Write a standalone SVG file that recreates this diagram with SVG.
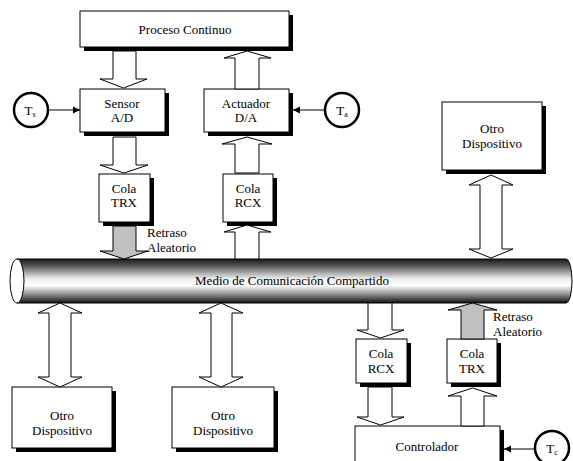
<svg xmlns="http://www.w3.org/2000/svg" width="573" height="461" viewBox="0 0 573 461">
<defs>
<style>
text{font-family:"Liberation Serif","Times New Roman",serif;font-size:13px;fill:#000;text-anchor:middle}
.box{fill:#fff;stroke:#000;stroke-width:1}
.sh{fill:#000}
.arr{fill:#fff;stroke:#000;stroke-width:1;stroke-linejoin:miter}
.garr{fill:#c0c0c0;stroke:#000;stroke-width:1}
.clk{fill:#fff;stroke:#000;stroke-width:2.5}
.ln{stroke:#000;stroke-width:1;fill:none}
.lt{text-anchor:start}
</style>
<linearGradient id="pipeG" x1="0" y1="0" x2="0" y2="1">
<stop offset="0" stop-color="#1a1a1a"/>
<stop offset="0.15" stop-color="#555555"/>
<stop offset="0.45" stop-color="#eeeeee"/>
<stop offset="0.6" stop-color="#ffffff"/>
<stop offset="0.8" stop-color="#909090"/>
<stop offset="1" stop-color="#101010"/>
</linearGradient>
<marker id="ah" markerWidth="8" markerHeight="8" refX="7" refY="4" orient="auto" markerUnits="userSpaceOnUse">
<path d="M0,0.5 L7,4 L0,7.5 Z" fill="#000"/>
</marker>
</defs>

<g id="medio">
<path d="M17,259 L566,259 A6,22 0 0 1 566,303 L17,303 Z" fill="url(#pipeG)" stroke="#000" stroke-width="1"/>
<ellipse cx="17" cy="281" rx="7" ry="22" fill="#fff" stroke="#000" stroke-width="1"/>
<text x="292" y="285">Medio de Comunicación Compartido</text>
</g>

<g id="proceso">
<rect class="sh" x="84" y="15" width="209" height="36"/>
<rect class="box" x="80" y="11" width="209" height="36"/>
<text x="185" y="34">Proceso Continuo</text>
</g>

<g id="sensor">
<rect class="sh" x="84" y="93" width="85" height="43"/>
<rect class="box" x="80" y="89" width="85" height="43"/>
<text x="122" y="108">Sensor</text>
<text x="122" y="122">A/D</text>
</g>

<g id="actuador">
<rect class="sh" x="208" y="93" width="85" height="43"/>
<rect class="box" x="204" y="89" width="85" height="43"/>
<text x="246" y="108">Actuador</text>
<text x="246" y="122">D/A</text>
</g>

<g id="colaTRX1">
<rect class="sh" x="103" y="178" width="51" height="48"/>
<rect class="box" x="99" y="174" width="51" height="48"/>
<text x="124" y="193">Cola</text>
<text x="124" y="207">TRX</text>
</g>

<g id="colaRCX1">
<rect class="sh" x="227" y="178" width="50" height="48"/>
<rect class="box" x="223" y="174" width="50" height="48"/>
<text x="248" y="193">Cola</text>
<text x="248" y="207">RCX</text>
</g>

<g id="otroTR">
<rect class="sh" x="446" y="106" width="100" height="68"/>
<rect class="box" x="442" y="102" width="100" height="68"/>
<text x="492" y="133">Otro</text>
<text x="492" y="148">Dispositivo</text>
</g>

<g id="otroBL">
<rect class="sh" x="16" y="391" width="100" height="61"/>
<rect class="box" x="12" y="387" width="100" height="61"/>
<text x="62" y="420">Otro</text>
<text x="62" y="435">Dispositivo</text>
</g>

<g id="otroBM">
<rect class="sh" x="176" y="391" width="102" height="61"/>
<rect class="box" x="172" y="387" width="102" height="61"/>
<text x="223" y="420">Otro</text>
<text x="223" y="435">Dispositivo</text>
</g>

<g id="colaRCX2">
<rect class="sh" x="360" y="343" width="51" height="44"/>
<rect class="box" x="356" y="339" width="51" height="44"/>
<text x="381" y="358">Cola</text>
<text x="381" y="373">RCX</text>
</g>

<g id="colaTRX2">
<rect class="sh" x="451" y="343" width="50" height="44"/>
<rect class="box" x="447" y="339" width="50" height="44"/>
<text x="472" y="358">Cola</text>
<text x="472" y="373">TRX</text>
</g>

<g id="controlador">
<rect class="sh" x="359" y="430" width="145" height="40"/>
<rect class="box" x="355" y="426" width="145" height="40"/>
<text x="427" y="451">Controlador</text>
</g>

<g id="Ts">
<circle class="clk" cx="31" cy="110" r="17"/>
<text x="30" y="115">T<tspan font-size="8" dy="2">s</tspan></text>
</g>
<g id="Ta">
<circle class="clk" cx="342" cy="110" r="17"/>
<text x="342" y="115">T<tspan font-size="8" dy="2">a</tspan></text>
</g>
<g id="Tc">
<circle class="clk" cx="552" cy="448" r="17"/>
<text x="552" y="453">T<tspan font-size="8" dy="2">c</tspan></text>
</g>

<g id="connectors">
<line class="ln" x1="49" y1="110" x2="80" y2="110" marker-end="url(#ah)"/>
<line class="ln" x1="325" y1="110" x2="293" y2="110" marker-end="url(#ah)"/>
<line class="ln" x1="535" y1="449" x2="504" y2="449" marker-end="url(#ah)"/>

<path class="arr" d="M113,51 L113,79 L100,79 L123.5,88 L147,79 L136,79 L136,51 Z"/>
<path class="arr" d="M235,89 L235,58 L224,58 L247,51 L271,58 L259,58 L259,89 Z"/>
<path class="arr" d="M113,137 L113,165 L100,165 L124,173 L148,165 L136,165 L136,137 Z"/>
<path class="arr" d="M235,173 L235,144 L222,144 L247,137 L272,144 L259,144 L259,173 Z"/>
<path class="garr" d="M113,226 L113,251 L100,251 L124,259 L148,251 L136,251 L136,226 Z"/>
<path class="arr" d="M235,259 L235,232 L224,232 L247,225 L271,232 L259,232 L259,259 Z"/>

<path class="arr" d="M480,185 L469,185 L491,175 L513,185 L502,185 L502,249 L513,249 L491,258 L469,249 L480,249 Z"/>
<path class="arr" d="M49,313 L38,313 L60,303 L82,313 L71,313 L71,377 L82,377 L60,387 L38,377 L49,377 Z"/>
<path class="arr" d="M211,313 L199,313 L221,303 L243,313 L232,313 L232,377 L243,377 L221,387 L199,377 L211,377 Z"/>

<path class="arr" d="M368,303 L368,330 L357,330 L380.5,338 L404,330 L392,330 L392,303 Z"/>
<path class="garr" d="M461,339 L461,310 L448,310 L472.5,303 L497,310 L484,310 L484,339 Z"/>
<path class="arr" d="M368,387 L368,417 L357,417 L380.5,425 L404,417 L392,417 L392,387 Z"/>
<path class="arr" d="M461,426 L461,396 L448,396 L472.5,388 L497,396 L484,396 L484,426 Z"/>

<text class="lt" x="147" y="237">Retraso</text>
<text class="lt" x="147" y="252">Aleatorio</text>
<text class="lt" x="493" y="321">Retraso</text>
<text class="lt" x="493" y="336">Aleatorio</text>
</g>
</svg>
